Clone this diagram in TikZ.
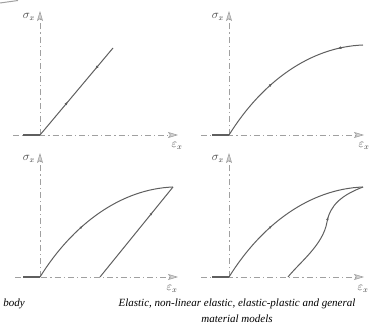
\documentclass[tikz,border=0pt]{standalone}
\usepackage{fontspec}
\setmainfont{Liberation Serif}
\usetikzlibrary{arrows.meta,decorations.markings}
\definecolor{axisgray}{RGB}{160,160,160}
\definecolor{curvegray}{RGB}{95,95,95}
\tikzset{
  axisline/.style={axisgray, line width=0.9pt, dash pattern=on 6pt off 3pt on 1.2pt off 3pt,
    -{Stealth[length=10pt, width=6pt, inset=2pt, fill=axisgray!45, line width=0.6pt]}},
  curve/.style={curvegray, line width=1pt},
  stub/.style={curvegray, line width=1.5pt},
  tinyarr/.style={decoration={markings, mark=at position #1 with {\arrow{Latex[length=3.2pt,width=2.6pt]}}}, postaction={decorate}},
  tinyrev/.style={decoration={markings, mark=at position #1 with {\arrowreversed{Latex[length=3.2pt,width=2.6pt]}}}, postaction={decorate}},
  axlabel/.style={inner sep=0pt, font=\fontsize{11.5}{12}\selectfont, text=black!75},
  caption/.style={inner sep=0pt, font=\itshape\fontsize{11}{12}\selectfont}
}
\begin{document}
\begin{tikzpicture}[x=1pt, y=-1pt]
\useasboundingbox (0,0) rectangle (382,328);
% fragment at top-left
\draw[axisgray, line width=1pt] (0,3) -- (18,0.5);

% ---------- panel 1 ----------
\coordinate (o1) at (40,135);
\coordinate (v1) at (40,11);
\coordinate (h1s) at (13,135);
\coordinate (h1) at (178,135);
\coordinate (s1) at (23,135);
\coordinate (p1) at (113,48);
\draw[axisline] (o1) -- (v1);
\draw[axisline] (h1s) -- (h1);
\draw[stub] (s1) -- (o1);
\draw[curve, tinyarr=0.38, tinyrev=0.76] (o1) -- (p1);
\node[axlabel, anchor=east] (sig1) at (35,17) {$\sigma_x$};
\node[axlabel] (eps1) at (177,146) {$\varepsilon_x$};

% ---------- panel 2 ----------
\coordinate (o2) at (229,135);
\coordinate (v2) at (229,11);
\coordinate (h2s) at (201,135);
\coordinate (h2) at (364,135);
\coordinate (s2) at (212,135);
\coordinate (p2) at (363,45);
\draw[axisline] (o2) -- (v2);
\draw[axisline] (h2s) -- (h2);
\draw[stub] (s2) -- (o2);
\draw[curve, tinyarr=0.4, tinyrev=0.85] (o2) .. controls (262,82) and (310,47) .. (p2);
\node[axlabel, anchor=east] (sig2) at (224,17) {$\sigma_x$};
\node[axlabel] (eps2) at (364,146) {$\varepsilon_x$};

% ---------- panel 3 ----------
\coordinate (o3) at (40,277);
\coordinate (v3) at (40,153);
\coordinate (h3s) at (15,277);
\coordinate (h3) at (178,277);
\coordinate (s3) at (23,277);
\coordinate (p3) at (173,187);
\coordinate (r3) at (100,277);
\draw[axisline] (o3) -- (v3);
\draw[axisline] (h3s) -- (h3);
\draw[stub] (s3) -- (o3);
\draw[curve, tinyarr=0.4] (o3) .. controls (73,224) and (121,189) .. (p3);
\draw[curve, tinyrev=0.28] (p3) -- (r3);
\node[axlabel, anchor=east] (sig3) at (35,159) {$\sigma_x$};
\node[axlabel] (eps3) at (172,289) {$\varepsilon_x$};

% ---------- panel 4 ----------
\coordinate (o4) at (229,277);
\coordinate (v4) at (229,153);
\coordinate (h4s) at (201,277);
\coordinate (h4) at (364,277);
\coordinate (s4) at (212,277);
\coordinate (p4) at (363,187);
\coordinate (m4) at (327,222);
\coordinate (r4) at (288,277);
\draw[axisline] (o4) -- (v4);
\draw[axisline] (h4s) -- (h4);
\draw[stub] (s4) -- (o4);
\draw[curve, tinyarr=0.4] (o4) .. controls (262,224) and (310,189) .. (p4);
\draw[curve, tinyrev=0.9] (p4) .. controls (342,195) and (330,205) .. (m4);
\draw[curve] (m4) .. controls (323,245) and (300,262) .. (r4);
\node[axlabel, anchor=east] (sig4) at (224,159) {$\sigma_x$};
\node[axlabel] (eps4) at (363,289) {$\varepsilon_x$};

% ---------- captions ----------
\node[caption, anchor=base east] (cap1) at (25,306) {body};
\node[caption, anchor=base] (cap2) at (237,306) {Elastic, non-linear elastic, elastic-plastic and general};
\node[caption, anchor=base] (cap3) at (237,322) {material models};
\end{tikzpicture}
\end{document}
